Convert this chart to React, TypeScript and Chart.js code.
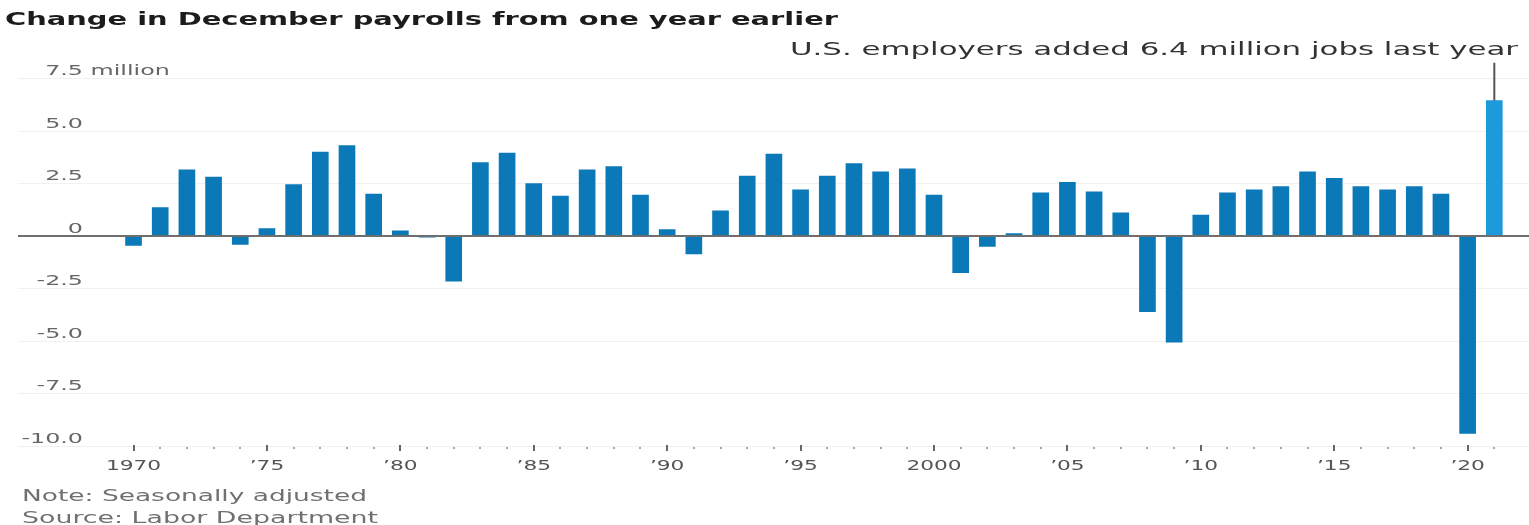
import React, { useEffect, useRef } from "react";
import { Chart, registerables } from "chart.js";

Chart.register(...registerables);

const YEARS = [
  1970, 1971, 1972, 1973, 1974, 1975, 1976, 1977, 1978, 1979,
  1980, 1981, 1982, 1983, 1984, 1985, 1986, 1987, 1988, 1989,
  1990, 1991, 1992, 1993, 1994, 1995, 1996, 1997, 1998, 1999,
  2000, 2001, 2002, 2003, 2004, 2005, 2006, 2007, 2008, 2009,
  2010, 2011, 2012, 2013, 2014, 2015, 2016, 2017, 2018, 2019,
  2020, 2021,
];

const CHANGE_MILLIONS = [
  -0.45, 1.35, 3.15, 2.8, -0.4, 0.35, 2.45, 4.0, 4.3, 2.0,
  0.25, -0.05, -2.15, 3.5, 3.95, 2.5, 1.9, 3.15, 3.3, 1.95,
  0.3, -0.85, 1.2, 2.85, 3.9, 2.2, 2.85, 3.45, 3.05, 3.2,
  1.95, -1.75, -0.5, 0.12, 2.05, 2.55, 2.1, 1.1, -3.6, -5.05,
  1.0, 2.05, 2.2, 2.35, 3.05, 2.75, 2.35, 2.2, 2.35, 2.0,
  -9.4, 6.45,
];

const HIGHLIGHT_YEAR = 2021;
const ANNOTATION_TOP_VALUE = 8.25;

const Y_TICKS = [-10, -7.5, -5, -2.5, 0, 2.5, 5, 7.5];
const Y_TICK_LABELS = ["-10.0", "-7.5", "-5.0", "-2.5", "0", "2.5", "5.0", "7.5"];
const Y_UNIT = " million";

const X_LABEL_YEARS = [1970, 1975, 1980, 1985, 1990, 1995, 2000, 2005, 2010, 2015, 2020];
const X_LABELS = ["1970", "’75", "’80", "’85", "’90", "’95", "2000", "’05", "’10", "’15", "’20"];

const TITLE = "Change in December payrolls from one year earlier";
const ANNOTATION = "U.S. employers added 6.4 million jobs last year";
const NOTES = ["Note: Seasonally adjusted", "Source: Labor Department"];

const FONT = '"DejaVu Sans", sans-serif';

function drawScaled(
  ctx: CanvasRenderingContext2D,
  text: string,
  x: number,
  y: number,
  font: string,
  color: string,
  align: CanvasTextAlign,
  sx: number
) {
  ctx.save();
  ctx.font = font;
  ctx.fillStyle = color;
  ctx.textAlign = align;
  ctx.textBaseline = "alphabetic";
  ctx.translate(x, y);
  ctx.scale(sx, 1);
  ctx.fillText(text, 0, 0);
  ctx.restore();
}

function drawFit(
  ctx: CanvasRenderingContext2D,
  text: string,
  x: number,
  y: number,
  font: string,
  color: string,
  align: CanvasTextAlign,
  width: number
) {
  ctx.save();
  ctx.font = font;
  const w = ctx.measureText(text).width || 1;
  ctx.restore();
  drawScaled(ctx, text, x, y, font, color, align, width / w);
}

const overlayPlugin = {
  id: "overlay",
  afterDatasetsDraw(chart: any) {
    const { ctx, chartArea } = chart;
    const xs = chart.scales.x;
    const ys = chart.scales.y;

    // zero line over bars
    const zeroY = ys.getPixelForValue(0);
    ctx.save();
    ctx.strokeStyle = "#6e6e6e";
    ctx.lineWidth = 2;
    ctx.beginPath();
    ctx.moveTo(chartArea.left, zeroY);
    ctx.lineTo(chartArea.right, zeroY);
    ctx.stroke();
    ctx.restore();

    // y labels
    const labelRight = chartArea.left + 65;
    Y_TICKS.forEach((v, i) => {
      const py = ys.getPixelForValue(v) - 3.5;
      drawScaled(ctx, Y_TICK_LABELS[i], labelRight, py, `14px ${FONT}`, "#666", "right", 1.7);
      if (i === Y_TICKS.length - 1) {
        drawScaled(ctx, Y_UNIT, labelRight, py, `14px ${FONT}`, "#666", "left", 1.7);
      }
    });

    // x tick marks
    const bottom = chartArea.bottom;
    ctx.save();
    YEARS.forEach((yr) => {
      const px = xs.getPixelForValue(yr);
      if (yr % 5 === 0) {
        ctx.fillStyle = "#666";
        ctx.fillRect(Math.round(px) - 1, bottom - 1, 2, 6);
      } else {
        ctx.fillStyle = "#aaa";
        ctx.fillRect(Math.round(px) - 1, bottom + 1, 2, 2);
      }
    });
    ctx.restore();

    // x labels
    X_LABEL_YEARS.forEach((yr, i) => {
      const px = xs.getPixelForValue(yr);
      drawScaled(ctx, X_LABELS[i], px, bottom + 24, `14px ${FONT}`, "#555", "center", 1.55);
    });

    // annotation line
    const hi = YEARS.indexOf(HIGHLIGHT_YEAR);
    const ax = xs.getPixelForValue(HIGHLIGHT_YEAR);
    ctx.save();
    ctx.strokeStyle = "#555";
    ctx.lineWidth = 2;
    ctx.beginPath();
    ctx.moveTo(ax, ys.getPixelForValue(CHANGE_MILLIONS[hi]));
    ctx.lineTo(ax, ys.getPixelForValue(ANNOTATION_TOP_VALUE));
    ctx.stroke();
    ctx.restore();

    drawFit(ctx, ANNOTATION, chart.width - 11, 55, `17px ${FONT}`, "#333", "right", 728);

    // title
    drawFit(ctx, TITLE, 5, 25, `bold 18px ${FONT}`, "#1c1c1c", "left", 833);

    // notes
    drawFit(ctx, NOTES[0], 22, 501, `15px ${FONT}`, "#707070", "left", 345);
    drawFit(ctx, NOTES[1], 22, 523, `15px ${FONT}`, "#707070", "left", 356);
  },
};

export default function App() {
  const canvasRef = useRef<HTMLCanvasElement | null>(null);

  useEffect(() => {
    const canvas = canvasRef.current;
    if (!canvas) return;
    const chart = new Chart(canvas, {
      type: "bar",
      data: {
        datasets: [
          {
            data: YEARS.map((yr, i) => ({ x: yr, y: CHANGE_MILLIONS[i] })),
            backgroundColor: YEARS.map((yr) => (yr === HIGHLIGHT_YEAR ? "#1d9ad9" : "#0b78b8")),
            borderWidth: 0,
            barThickness: 16,
          } as any,
        ],
      },
      options: {
        responsive: false,
        animation: false,
        layout: { padding: { left: 18, right: 0, top: 57.5, bottom: 79 } },
        plugins: {
          legend: { display: false },
          tooltip: { enabled: false },
          title: { display: false },
        },
        scales: {
          x: {
            type: "linear",
            min: 1965.67,
            max: 2022.3,
            offset: false,
            display: false,
          },
          y: {
            type: "linear",
            min: -10,
            max: 8.5,
            afterBuildTicks: (s: any) => {
              s.ticks = Y_TICKS.map((v) => ({ value: v }));
            },
            afterFit: (s: any) => {
              s.width = 0;
            },
            ticks: { display: false },
            border: { display: false },
            grid: {
              drawTicks: false,
              color: (c: any) => (c.tick && c.tick.value === 0 ? "rgba(0,0,0,0)" : "#f1f1f1"),
              lineWidth: 1,
            },
          },
        },
      } as any,
      plugins: [overlayPlugin],
    });
    return () => chart.destroy();
  }, []);

  return (
    <div style={{ position: "absolute", left: 0, top: 0, width: 1529, height: 525, background: "#fff" }}>
      <canvas ref={canvasRef} width={1529} height={525} style={{ display: "block" }} />
    </div>
  );
}
